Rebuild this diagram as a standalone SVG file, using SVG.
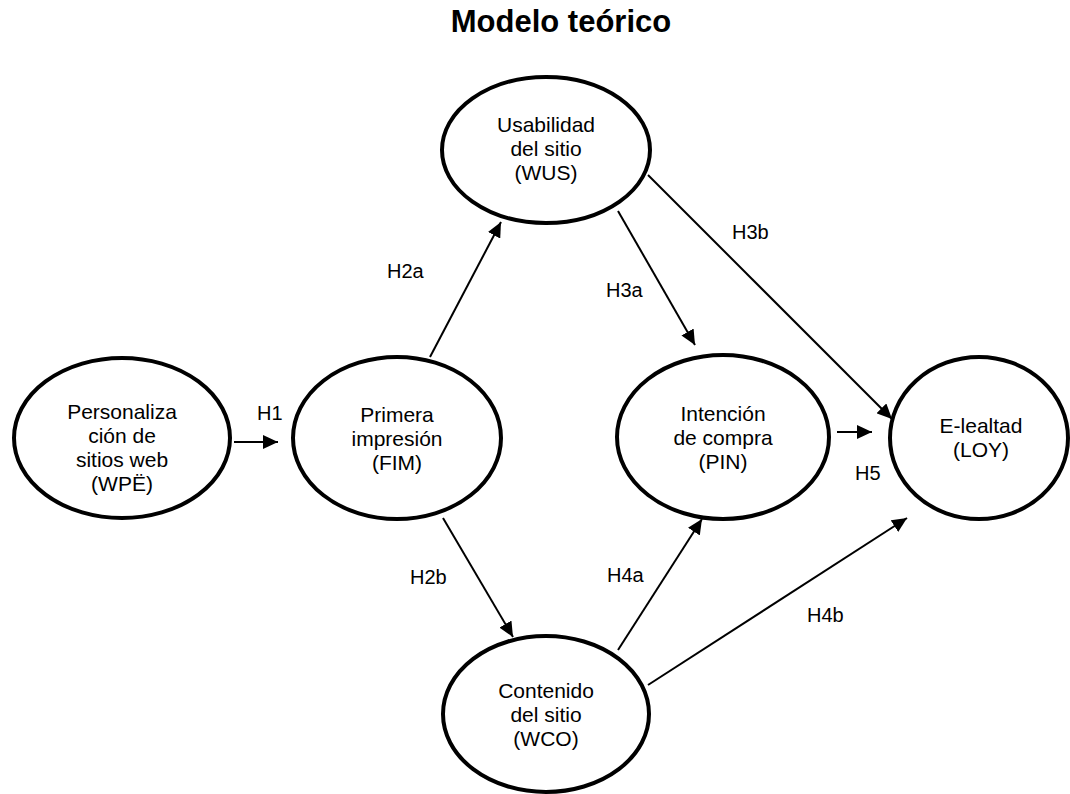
<svg xmlns="http://www.w3.org/2000/svg" width="1070" height="794" viewBox="0 0 1070 794">
<style>
.node{fill:#fff;stroke:#000;stroke-width:4}
.t{font-family:"Liberation Sans",Arial,sans-serif;font-size:21px;fill:#000;text-anchor:middle}
.lbl{font-family:"Liberation Sans",Arial,sans-serif;font-size:20px;fill:#000}
.title{font-family:"Liberation Sans",Arial,sans-serif;font-size:31px;font-weight:bold;fill:#000;text-anchor:middle}
.edge{stroke:#000;stroke-width:2;fill:none;marker-end:url(#ah)}
</style>
<defs>
<marker id="ah" markerUnits="userSpaceOnUse" markerWidth="16" markerHeight="14" refX="15" refY="7" orient="auto">
<path d="M0,0 L15,7 L0,14 z" fill="#000"/>
</marker>
</defs>
<rect width="1070" height="794" fill="#fff"/>
<text class="title" x="561" y="32">Modelo teórico</text>
<g id="connectors">
<line class="edge" x1="234" y1="442" x2="278" y2="442"/>
<line class="edge" x1="430" y1="357" x2="501" y2="222"/>
<line class="edge" x1="443" y1="518" x2="513" y2="637"/>
<line class="edge" x1="618" y1="211" x2="695" y2="345"/>
<line class="edge" x1="648" y1="175" x2="892" y2="419"/>
<line class="edge" x1="837" y1="432" x2="872" y2="432"/>
<line class="edge" x1="618" y1="650" x2="702" y2="519"/>
<line class="edge" x1="648" y1="685" x2="907" y2="518"/>
</g>
<g id="labels">
<text class="lbl" x="257" y="420">H1</text>
<text class="lbl" x="387" y="278">H2a</text>
<text class="lbl" x="410" y="584">H2b</text>
<text class="lbl" x="606" y="297">H3a</text>
<text class="lbl" x="732" y="239">H3b</text>
<text class="lbl" x="607" y="582">H4a</text>
<text class="lbl" x="807" y="622">H4b</text>
<text class="lbl" x="855" y="480">H5</text>
</g>
<g id="WPE">
<ellipse class="node" cx="122" cy="438" rx="108" ry="80"/>
<text class="t" x="122" y="419">Personaliza</text>
<text class="t" x="122" y="443">ción de</text>
<text class="t" x="122" y="467">sitios web</text>
<text class="t" x="122" y="491">(WPË)</text>
</g>
<g id="FIM">
<ellipse class="node" cx="397" cy="438" rx="104" ry="81"/>
<text class="t" x="397" y="422">Primera</text>
<text class="t" x="397" y="446">impresión</text>
<text class="t" x="397" y="470">(FIM)</text>
</g>
<g id="WUS">
<ellipse class="node" cx="546" cy="150" rx="104" ry="73"/>
<text class="t" x="546" y="132">Usabilidad</text>
<text class="t" x="546" y="156">del sitio</text>
<text class="t" x="546" y="180">(WUS)</text>
</g>
<g id="PIN">
<ellipse class="node" cx="723" cy="437" rx="106" ry="82"/>
<text class="t" x="723" y="421">Intención</text>
<text class="t" x="723" y="445">de compra</text>
<text class="t" x="723" y="469">(PIN)</text>
</g>
<g id="LOY">
<ellipse class="node" cx="979" cy="438" rx="89" ry="81"/>
<text class="t" x="981" y="433">E-lealtad</text>
<text class="t" x="981" y="457">(LOY)</text>
</g>
<g id="WCO">
<ellipse class="node" cx="546" cy="714" rx="103" ry="78"/>
<text class="t" x="546" y="698">Contenido</text>
<text class="t" x="546" y="722">del sitio</text>
<text class="t" x="546" y="746">(WCO)</text>
</g>
</svg>
